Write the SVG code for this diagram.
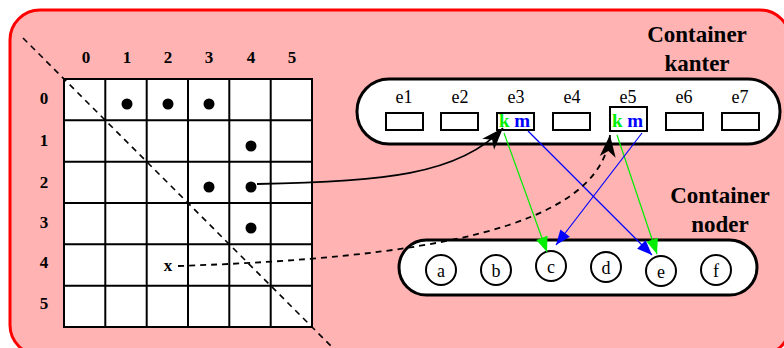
<svg xmlns="http://www.w3.org/2000/svg" width="784" height="348" viewBox="0 0 784 348">
<defs>
<style>
.lbl{font-family:"Liberation Serif","Times New Roman",serif;font-weight:bold;font-size:17px;text-anchor:middle;fill:#000}
.title{font-family:"Liberation Serif","Times New Roman",serif;font-weight:bold;font-size:23px;text-anchor:middle;fill:#000}
.el{font-family:"Liberation Serif","Times New Roman",serif;font-size:18px;text-anchor:middle;fill:#000}
.km{font-family:"Liberation Serif","Times New Roman",serif;font-weight:bold;font-size:19px}
.cell{fill:#fff;stroke:#000;stroke-width:2}
.box{fill:#fff;stroke:#000;stroke-width:2}
.node{fill:#fff;stroke:#000;stroke-width:2}
.dot{fill:#000}
</style>
<marker id="blk" markerUnits="userSpaceOnUse" markerWidth="26" markerHeight="20" viewBox="-23 -10 25 20" refX="0" refY="0" orient="auto">
<path d="M0,0 L-22,-8 L-16,0 L-22,8 Z" fill="#000" stroke="none"/>
</marker>
<marker id="grn" markerUnits="userSpaceOnUse" markerWidth="17" markerHeight="14" viewBox="-15 -7 16 14" refX="0" refY="0" orient="auto">
<path d="M0,0 L-15,-6 L-15,6 Z" fill="#00ee00" stroke="none"/>
</marker>
<marker id="blu" markerUnits="userSpaceOnUse" markerWidth="17" markerHeight="14" viewBox="-15 -7 16 14" refX="0" refY="0" orient="auto">
<path d="M0,0 L-15,-6 L-15,6 Z" fill="#0000ff" stroke="none"/>
</marker>
</defs>

<rect id="frame" x="10" y="10" width="780" height="345" rx="30" ry="30" fill="#ffb3b3" stroke="#ff0000" stroke-width="3"/>

<g id="matrix">
<g id="grid">
<rect class="cell" x="64" y="79" width="248" height="248"/>
<path d="M105.3,79V327M146.7,79V327M188,79V327M229.3,79V327M270.7,79V327M64,120.3H312M64,161.7H312M64,203H312M64,244.3H312M64,285.7H312" stroke="#000" stroke-width="2" fill="none"/>
</g>
<g id="col-labels">
<text class="lbl" x="86" y="63">0</text>
<text class="lbl" x="127" y="63">1</text>
<text class="lbl" x="168" y="63">2</text>
<text class="lbl" x="209" y="63">3</text>
<text class="lbl" x="251" y="63">4</text>
<text class="lbl" x="292" y="63">5</text>
</g>
<g id="row-labels">
<text class="lbl" x="44" y="104">0</text>
<text class="lbl" x="44" y="146">1</text>
<text class="lbl" x="44" y="188">2</text>
<text class="lbl" x="44" y="228">3</text>
<text class="lbl" x="44" y="268">4</text>
<text class="lbl" x="44" y="309">5</text>
</g>
<g id="dots">
<circle class="dot" cx="127" cy="104" r="5.5"/>
<circle class="dot" cx="168" cy="104" r="5.5"/>
<circle class="dot" cx="209" cy="104" r="5.5"/>
<circle class="dot" cx="251" cy="146" r="5.5"/>
<circle class="dot" cx="209" cy="187" r="5.5"/>
<circle class="dot" cx="251" cy="187" r="5.5"/>
<circle class="dot" cx="251" cy="228" r="5.5"/>
</g>
<text id="x-mark" class="lbl" x="168" y="271">x</text>
<path id="diagonal" d="M23,38 L334,349" stroke="#000" stroke-width="1.6" stroke-dasharray="6 5" fill="none"/>
</g>

<g id="container-kanter">
<rect x="357" y="79" width="423" height="65" rx="32" ry="32" fill="#fff" stroke="#000" stroke-width="3"/>
<text class="title" x="697" y="42">Container</text>
<text class="title" x="697" y="71">kanter</text>
<g id="e1"><text class="el" x="404" y="103">e1</text><rect class="box" x="386" y="113" width="37" height="17"/></g>
<g id="e2"><text class="el" x="460" y="103">e2</text><rect class="box" x="441" y="113" width="37" height="17"/></g>
<g id="e3"><text class="el" x="516" y="103">e3</text><rect class="box" x="497" y="113" width="37" height="17"/>
<text class="km" x="499" y="127"><tspan fill="#00ee00">k</tspan> <tspan fill="#0000ff">m</tspan></text></g>
<g id="e4"><text class="el" x="572" y="103">e4</text><rect class="box" x="553" y="113" width="37" height="17"/></g>
<g id="e5"><text class="el" x="628" y="103">e5</text><rect class="box" x="610" y="107" width="37" height="24"/>
<text class="km" x="612" y="127"><tspan fill="#00ee00">k</tspan> <tspan fill="#0000ff">m</tspan></text></g>
<g id="e6"><text class="el" x="684" y="103">e6</text><rect class="box" x="666" y="113" width="37" height="17"/></g>
<g id="e7"><text class="el" x="740" y="103">e7</text><rect class="box" x="722" y="113" width="37" height="17"/></g>
</g>

<g id="container-noder">
<rect x="399" y="240" width="358" height="55" rx="27.5" ry="27.5" fill="#fff" stroke="#000" stroke-width="3"/>
<text class="title" x="720" y="203">Container</text>
<text class="title" x="720" y="232">noder</text>
<g id="a"><circle class="node" cx="441" cy="270" r="15"/><text class="el" x="441" y="277">a</text></g>
<g id="b"><circle class="node" cx="496" cy="270" r="15"/><text class="el" x="496" y="277">b</text></g>
<g id="c"><circle class="node" cx="551" cy="266" r="15"/><text class="el" x="551" y="273">c</text></g>
<g id="d"><circle class="node" cx="606" cy="267" r="15"/><text class="el" x="606" y="274">d</text></g>
<g id="e"><circle class="node" cx="661" cy="271" r="15"/><text class="el" x="661" y="278">e</text></g>
<g id="f"><circle class="node" cx="716" cy="270" r="15"/><text class="el" x="716" y="277">f</text></g>
</g>

<g id="connectors" fill="none">
<path d="M504,133 L547,252" stroke="#00ee00" stroke-width="1.2" marker-end="url(#grn)"/>
<path d="M528,131 L652,255" stroke="#0000ff" stroke-width="1.2" marker-end="url(#blu)"/>
<path d="M617,135 L657,254" stroke="#00ee00" stroke-width="1.2" marker-end="url(#grn)"/>
<path d="M642,133 L556,245" stroke="#0000ff" stroke-width="1.2" marker-end="url(#blu)"/>
<path d="M257,184 C380,182 460,175 503,128" stroke="#000" stroke-width="1.8" marker-end="url(#blk)"/>
<path d="M178,266 C420,258 600,230 610,135" stroke="#000" stroke-width="1.8" stroke-dasharray="6 5" marker-end="url(#blk)"/>
</g>
</svg>
